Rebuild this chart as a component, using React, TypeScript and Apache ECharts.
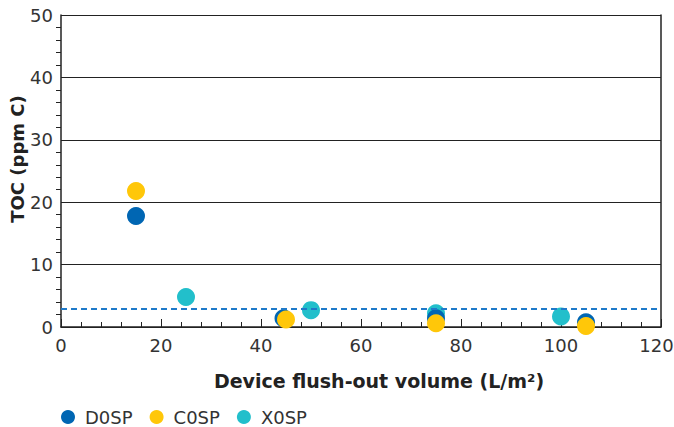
import React, { useEffect, useRef } from "react";
import * as echarts from "echarts";

const seriesNames = ["D0SP", "C0SP", "X0SP"];
const colors = ["#0066b3", "#ffc709", "#22bfcb"];
const d0sp: [number, number][] = [[15, 17.8], [44.5, 1.4], [75, 1.4], [105, 0.75]];
const c0sp: [number, number][] = [[15, 21.8], [45, 1.2], [75, 0.6], [105, 0.15]];
const x0sp: [number, number][] = [[25, 4.8], [50, 2.7], [75, 2.2], [100, 1.7]];
const limitValue = 3;
const xMax = 120;

export default function App() {
  const ref = useRef<HTMLDivElement>(null);
  useEffect(() => {
    if (!ref.current) return;
    const chart = echarts.init(ref.current, null, { renderer: "svg" });
    const font = "'DejaVu Sans', Verdana, sans-serif";
    const datas = [d0sp, c0sp, x0sp];
    const zs = [3, 4, 2];
    chart.setOption({
      animation: false,
      textStyle: { fontFamily: font },
      grid: {
        left: 61,
        right: 13,
        top: 15,
        bottom: 100,
        containLabel: false,
        outerBoundsMode: "none",
      },
      legend: {
        data: seriesNames,
        top: 403,
        left: 56,
        icon: "circle",
        itemWidth: 24,
        itemHeight: 14,
        itemGap: 17,
        textStyle: { fontSize: 18, color: "#333", fontFamily: font },
      },
      xAxis: {
        type: "value",
        min: 0,
        max: xMax,
        interval: 20,
        name: "Device flush-out volume (L/m²)",
        nameLocation: "middle",
        nameGap: 44,
        nameTextStyle: {
          fontSize: 19,
          fontWeight: "bold",
          color: "#222",
          fontFamily: font,
          padding: [0, 0, 0, 36],
        },
        axisLine: { show: true, lineStyle: { color: "#222", width: 1.5 } },
        axisTick: { show: true, inside: true, length: 8, lineStyle: { color: "#222" } },
        minorTick: { show: true, splitNumber: 5, length: 5, lineStyle: { color: "#222" } },
        axisLabel: {
          fontSize: 18,
          color: "#333",
          margin: 9,
          fontFamily: font,
          formatter: (v: number) => (v === xMax ? `{m|${v}}` : `${v}`),
          rich: {
            m: { fontSize: 18, color: "#333", fontFamily: font, padding: [0, 9, 0, 0] },
          },
        },
        splitLine: { show: false },
      },
      yAxis: [
        {
          type: "value",
          min: 0,
          max: 50,
          interval: 10,
          name: "TOC (ppm C)",
          nameLocation: "middle",
          nameGap: 35,
          nameMoveOverlap: false,
          nameTextStyle: {
            fontSize: 18,
            fontWeight: "bold",
            color: "#222",
            fontFamily: font,
            padding: [0, 0, 0, 24],
          },
          axisLine: { show: true, lineStyle: { color: "#222", width: 1.5 } },
          axisTick: { show: false },
          minorTick: { show: true, splitNumber: 5, length: 5, lineStyle: { color: "#222" } },
          axisLabel: { fontSize: 18, color: "#333", margin: 8, fontFamily: font },
          splitLine: { show: true, lineStyle: { color: "#222", width: 1.2 } },
        },
        {
          type: "value",
          min: 0,
          max: 50,
          interval: 10,
          position: "right",
          axisLine: { show: true, lineStyle: { color: "#222", width: 1.5 } },
          axisTick: { show: false },
          axisLabel: { show: false },
          splitLine: { show: false },
        },
      ],
      series: seriesNames.map((name, i) => ({
        name,
        type: "scatter",
        data: datas[i],
        symbolSize: 18,
        z: zs[i],
        itemStyle: { color: colors[i], opacity: 1 },
        ...(i === 0
          ? {
              markLine: {
                silent: true,
                symbol: "none",
                label: { show: false },
                lineStyle: { type: [6, 4], color: "#1f7ac9", width: 2 },
                data: [{ yAxis: limitValue }],
              },
            }
          : {}),
      })),
    });
    return () => chart.dispose();
  }, []);
  return <div ref={ref} style={{ width: 674, height: 427 }} />;
}

const _style = document.createElement("style");
_style.textContent = "body{margin:0}";
document.head.appendChild(_style);
